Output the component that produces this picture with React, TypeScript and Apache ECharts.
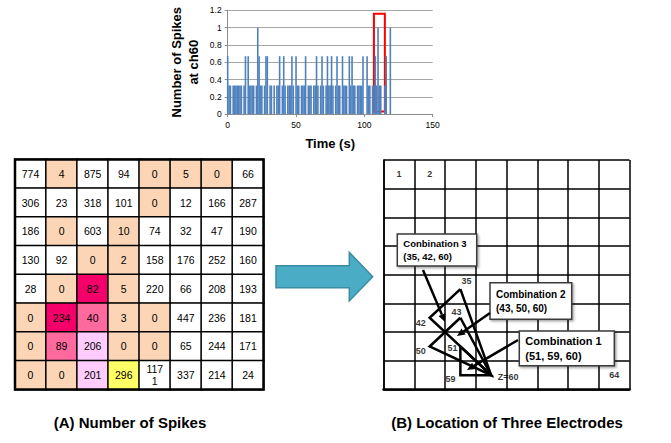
import React, { useEffect, useRef } from "react";
import * as echarts from "echarts";

// ---------- Data ----------
// spike counts at ch60, one value per second (t = 0 .. 120 s)
const spikeCounts: number[] = [
  0.67, 0.33, 0.33, 0, 0.33, 0.33, 0.33, 0.33, 0.33, 0.33,
  0.33, 0, 0.33, 0.67, 0, 0.67, 0.33, 0.33, 0.33, 0.33,
  0, 0.33, 1, 0.67, 0.33, 0.33, 0, 0.33, 0.67, 0.67,
  0, 0.33, 0.33, 0, 0.33, 0, 0.33, 0.33, 0.67, 0,
  0.33, 0.67, 0.33, 0, 0.33, 0.33, 0.33, 0.67, 0.33, 0,
  0.67, 0.33, 0.33, 0, 0.33, 0.33, 0.33, 0.67, 0, 0.33,
  0.33, 0.33, 0, 0.33, 0.33, 0.67, 0.33, 0, 0.33, 0.67,
  0.33, 0, 0.33, 0.67, 0.33, 0.33, 0.67, 0.33, 0, 0.33,
  0.67, 0.33, 0.33, 0, 0.67, 0.33, 0.33, 0.33, 0, 0.67,
  0.33, 0.67, 0.33, 0.33, 0, 0.33, 0.33, 0.33, 0.33, 0.67,
  0, 0, 0.67, 0.33, 0.33, 0, 0.33, 0.33, 0.67, 0.33,
  1, 0.33, 0.33, 0, 0, 0.33, 0.67, 0, 0, 1, 0,
];
const highlightWindow = [107, 115]; // seconds (red box)

// number of spikes per electrode (8 x 8 MEA), row by row
const electrodeSpikes: number[][] = [
  [774, 4, 875, 94, 0, 5, 0, 66],
  [306, 23, 318, 101, 0, 12, 166, 287],
  [186, 0, 603, 10, 74, 32, 47, 190],
  [130, 92, 0, 2, 158, 176, 252, 160],
  [28, 0, 82, 5, 220, 66, 208, 193],
  [0, 234, 40, 3, 0, 447, 236, 181],
  [0, 89, 206, 0, 0, 65, 244, 171],
  [0, 0, 201, 296, 1171, 337, 214, 24],
];

const combination1 = [51, 59, 60];
const combination2 = [43, 50, 60];
const combination3 = [35, 42, 60];
const referenceElectrode = 60;
const labelledElectrodes = [1, 2, 35, 42, 43, 50, 51, 59, 60, 64];

// ---------- Layout / style ----------
const FONT = '"Liberation Sans", Arial, Helvetica, sans-serif';
const BAR = { left: 227.7, top: 10.3, width: 205, height: 103.8 };
const LG = { left: 15, top: 159.5, width: 248.5, height: 230 };
const RG = { left: 383.5, top: 160, width: 246, height: 229.5 };

const classColors = ["#FFFFFF", "#FBD5B5", "#F5006A", "#FF6A9E", "#FFCCFF", "#FFFF66"];

const labelOffsets: Record<number, [number, number]> = {
  1: [0, 0], 2: [0, 0], 35: [6, -8], 42: [-9, 5], 43: [-4, -6],
  50: [-9, 5], 51: [-8, 2], 59: [-10, 4], 60: [17, 2], 64: [0, 0],
};

const electrodeXY = (n: number) => {
  const i = n - 1;
  return [(i % 8) + 0.5, Math.floor(i / 8) + 0.5];
};

function cellClass(row: number, col: number, v: number) {
  const n = row * 8 + col + 1;
  if (n === referenceElectrode) return 5;
  if (combination3.includes(n)) return 2;
  if (combination2.includes(n)) return 3;
  if (combination1.includes(n)) return 4;
  if (v <= 10) return 1;
  return 0;
}

function arrowGraphic(x1: number, y1: number, x2: number, y2: number, head = 8) {
  const a = Math.atan2(y2 - y1, x2 - x1);
  const bx = x2 - head * Math.cos(a);
  const by = y2 - head * Math.sin(a);
  const px = -Math.sin(a) * head * 0.45;
  const py = Math.cos(a) * head * 0.45;
  return [
    { type: "line", z: 120, shape: { x1, y1, x2: bx, y2: by }, style: { stroke: "#000", lineWidth: 2.5 } },
    { type: "polygon", z: 120, shape: { points: [[x2, y2], [bx + px, by + py], [bx - px, by - py]] }, style: { fill: "#000" } },
  ];
}

function boxGraphic(x: number, y: number, w: number, h: number, lines: string[], fs: number) {
  return [
    {
      type: "rect", z: 110, shape: { x, y, width: w, height: h },
      style: { fill: "#fff", stroke: "#3a3a3a", lineWidth: 1.5, shadowBlur: 2, shadowOffsetX: 1.5, shadowOffsetY: 1.5, shadowColor: "rgba(0,0,0,0.35)" },
    },
    {
      type: "text", z: 111, x: x + 6, y: y + h / 2,
      style: { text: lines.join("\n"), fontFamily: FONT, fontWeight: "bold", fontSize: fs, lineHeight: fs + 4, fill: "#000", verticalAlign: "middle", align: "left" },
    },
  ];
}

export default function App() {
  const ref = useRef<HTMLDivElement>(null);

  useEffect(() => {
    if (!ref.current) return;
    const chart = echarts.init(ref.current, undefined, { renderer: "svg" });

    const heatData: any[] = [];
    electrodeSpikes.forEach((row, r) =>
      row.forEach((v, c) => {
        heatData.push([c, r, v, cellClass(r, c, v)]);
      })
    );

    const triangle = (ids: number[]) => [...ids, ids[0]].map(electrodeXY);

    const labelData = labelledElectrodes.map((n) => ({
      value: electrodeXY(n),
      label: { offset: labelOffsets[n] },
      name: n === referenceElectrode ? "Z=" + n : String(n),
    }));

    const idx = Array.from({ length: 8 }, (_, i) => String(i));

    const graphics: any[] = [
      {
        type: "polygon", z: 100,
        shape: { points: [[276, 265.7], [349.3, 265.7], [349.3, 252.3], [372.7, 276.7], [349.3, 301], [349.3, 287.7], [276, 287.7]] },
        style: { fill: "#4BACC6", stroke: "#3A8CA3", lineWidth: 1.5 },
      },
      {
        type: "rect", z: 100, shape: { x: LG.left, y: LG.top, width: LG.width, height: LG.height },
        style: { fill: "none", stroke: "#000", lineWidth: 2.5 },
      },
      ...boxGraphic(397.3, 234, 79.4, 32, ["Conbination 3", "(35, 42, 60)"], 9.5),
      ...boxGraphic(490, 282.7, 81.7, 36.6, ["Combination 2", "(43, 50, 60)"], 10),
      ...boxGraphic(519.3, 331, 95, 34.7, ["Combination 1", "(51, 59, 60)"], 11),
      ...arrowGraphic(423, 270, 445, 322),
      ...arrowGraphic(490, 313, 457, 336),
      ...arrowGraphic(518, 340, 467, 370),
      {
        type: "text", z: 100, x: 130, y: 422,
        style: { text: "(A) Number of Spikes", fontFamily: FONT, fontWeight: "bold", fontSize: 15, fill: "#000", align: "center", verticalAlign: "middle" },
      },
      {
        type: "text", z: 100, x: 507, y: 422,
        style: { text: "(B) Location of Three Electrodes", fontFamily: FONT, fontWeight: "bold", fontSize: 15, fill: "#000", align: "center", verticalAlign: "middle" },
      },
    ];

    const option: any = {
      animation: false,
      textStyle: { fontFamily: FONT },
      grid: [
        { ...BAR, containLabel: false },
        { ...LG, containLabel: false },
        { ...RG, containLabel: false },
      ],
      visualMap: {
        type: "piecewise", show: false, seriesIndex: 1, dimension: 3,
        pieces: classColors.map((color, i) => ({ value: i, color })),
      },
      xAxis: [
        {
          gridIndex: 0, type: "value", min: 0, max: 150, interval: 50,
          axisLine: { show: true, onZero: false, lineStyle: { color: "#8C8C8C" } },
          axisTick: { show: true, length: 3, lineStyle: { color: "#8C8C8C" } },
          axisLabel: { fontSize: 8.5, color: "#000", margin: 6 },
          splitLine: { show: false },
          name: "Time (s)", nameLocation: "middle", nameGap: 23,
          nameTextStyle: { fontSize: 13, fontWeight: "bold", color: "#000" },
        },
        { gridIndex: 1, type: "category", data: idx, show: false },
        {
          gridIndex: 2, type: "value", min: 0, max: 8, interval: 1,
          axisLine: { show: true, onZero: false, lineStyle: { color: "#000", width: 2.5 } },
          axisTick: { show: false }, axisLabel: { show: false },
          splitLine: { show: true, lineStyle: { color: "#000", width: 1.5 } },
        },
      ],
      yAxis: [
        {
          gridIndex: 0, type: "value", min: 0, max: 1.2, interval: 0.2,
          axisLine: { show: true, onZero: false, lineStyle: { color: "#8C8C8C" } },
          axisTick: { show: true, length: 3, lineStyle: { color: "#8C8C8C" } },
          axisLabel: { fontSize: 8.5, color: "#000", margin: 6 },
          splitLine: { show: true, lineStyle: { color: "#A6A6A6", width: 1 } },
          name: "Number of Spikes\nat ch60", nameLocation: "middle", nameGap: 26, nameRotate: 90,
          nameTextStyle: { fontSize: 13, fontWeight: "bold", color: "#000", lineHeight: 17 },
        },
        { gridIndex: 1, type: "category", data: idx, inverse: true, show: false },
        {
          gridIndex: 2, type: "value", min: 0, max: 8, interval: 1, inverse: true,
          axisLine: { show: true, onZero: false, lineStyle: { color: "#000", width: 1.5 } },
          axisTick: { show: false }, axisLabel: { show: false },
          splitLine: { show: true, lineStyle: { color: "#000", width: 1.5 } },
        },
      ],
      series: [
        {
          type: "bar", xAxisIndex: 0, yAxisIndex: 0, barWidth: 1.6,
          data: spikeCounts.map((v, t) => [t, v]),
          itemStyle: { color: "#4F81BD" },
          markArea: {
            silent: true,
            label: { show: false },
            itemStyle: { color: "rgba(0,0,0,0)", borderColor: "#FF0000", borderWidth: 2 },
            data: [[{ coord: [highlightWindow[0], 0.03] }, { coord: [highlightWindow[1], 1.16] }]],
          },
        },
        {
          type: "heatmap", xAxisIndex: 1, yAxisIndex: 1, data: heatData,
          itemStyle: { borderColor: "#000", borderWidth: 1.5 },
          label: {
            show: true, fontSize: 10.5, color: "#000", lineHeight: 12,
            formatter: (p: any) => {
              const s = String(p.value[2]);
              return s.length > 3 ? s.slice(0, 3) + "\n" + s.slice(3) : s;
            },
          },
          emphasis: { disabled: true },
        },
        ...[combination3, combination2, combination1].map((c) => ({
          type: "line", xAxisIndex: 2, yAxisIndex: 2, data: triangle(c),
          symbol: "none", z: 5,
          lineStyle: { color: "#000", width: 2.5, join: "miter" },
        })),
        {
          type: "scatter", xAxisIndex: 2, yAxisIndex: 2, symbolSize: 0, z: 6,
          data: labelData,
          label: {
            show: true, position: "inside", formatter: (p: any) => p.name,
            fontSize: 9, fontWeight: "bold", color: "#000",
          },
        },
      ],
      graphic: graphics,
    };

    chart.setOption(option);
    return () => chart.dispose();
  }, []);

  return (
    <div
      ref={ref}
      style={{ position: "absolute", left: 0, top: 0, width: 671, height: 443, background: "#fff" }}
    />
  );
}
